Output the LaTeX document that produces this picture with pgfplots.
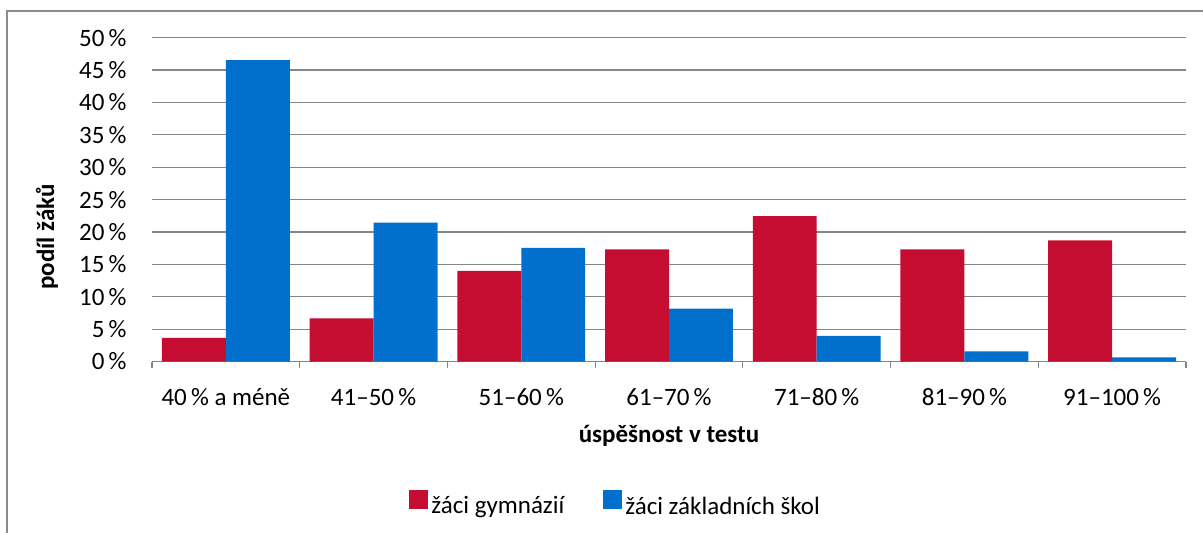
\documentclass[border=0pt]{standalone}
\usepackage{fontspec}
\setmainfont{Carlito}
\usepackage{pgfplots}
\pgfplotsset{compat=1.18}
\definecolor{cred}{RGB}{197,13,50}
\definecolor{cblue}{RGB}{0,112,204}
\definecolor{cgrid}{RGB}{134,134,134}
\definecolor{cframe}{RGB}{140,140,140}
\begin{document}
\fontsize{12.5bp}{14bp}\selectfont
\begin{tikzpicture}[font=\fontsize{12.5bp}{14bp}\selectfont]
\useasboundingbox (0,0) rectangle (601.5bp,-266.5bp);
\draw[cframe, line width=0.75bp] (3.5bp,-266.5bp) -- (3.5bp,-5.5bp) -- (601.5bp,-5.5bp);
\begin{axis}[
  at={(76bp,-180.75bp)}, anchor=south west,
  scale only axis, width=517bp, height=161.9bp,
  xmin=-0.5, xmax=6.5, ymin=0, ymax=50,
  ybar=0pt, bar width=0.433,
  axis lines*=left,
  y axis line style={draw=none},
  x axis line style={cgrid, line width=0.6bp},
  ymajorgrids, grid style={cgrid, line width=0.6bp},
  ytick={0,5,...,50},
  yticklabels={0\,\%,5\,\%,10\,\%,15\,\%,20\,\%,25\,\%,30\,\%,35\,\%,40\,\%,45\,\%,50\,\%},
  xtick={0,...,6},
  xticklabels={40\,\% a méně,41–50\,\%,51–60\,\%,61–70\,\%,71–80\,\%,81–90\,\%,91–100\,\%},
  minor xtick={-0.5,0.5,...,6.5},
  major tick length=0pt, minor tick length=3bp, tick align=outside,
  tick style={cgrid, line width=0.6bp},
  yticklabel style={anchor=east, inner sep=0pt, xshift=-12.5bp},
  xticklabel style={anchor=base, inner sep=0pt, yshift=-21.75bp},
  xlabel={úspěšnost v testu},
  xlabel style={at={(axis description cs:0.5,0)}, anchor=base, inner sep=0pt, yshift=-40.5bp, font=\fontsize{12.5bp}{14bp}\selectfont\bfseries},
  ylabel={podíl žáků},
  ylabel style={at={(axis description cs:-0.1015,0.385)}, anchor=center, inner sep=0pt, font=\fontsize{12.5bp}{14bp}\selectfont\bfseries},
  legend columns=2,
  legend style={draw=none, fill=none, at={(axis description cs:0.2486,-0.44)}, anchor=west, inner sep=0pt,
    nodes={inner sep=0pt}, /tikz/every even column/.append style={column sep=19.5bp}},
  legend image code/.code={\path[#1,draw=none] (0bp,-1bp) rectangle (9.5bp,8.5bp); \path (11bp,0bp);},
]
\addplot[fill=cred, draw=none] coordinates {(0,3.65) (1,6.65) (2,14.0) (3,17.3) (4,22.45) (5,17.3) (6,18.7)};
\addplot[fill=cblue, draw=none] coordinates {(0,46.55) (1,21.45) (2,17.55) (3,8.15) (4,3.97) (5,1.55) (6,0.65)};
\legend{žáci gymnázií, žáci základních škol}
\end{axis}
\end{tikzpicture}
\end{document}
